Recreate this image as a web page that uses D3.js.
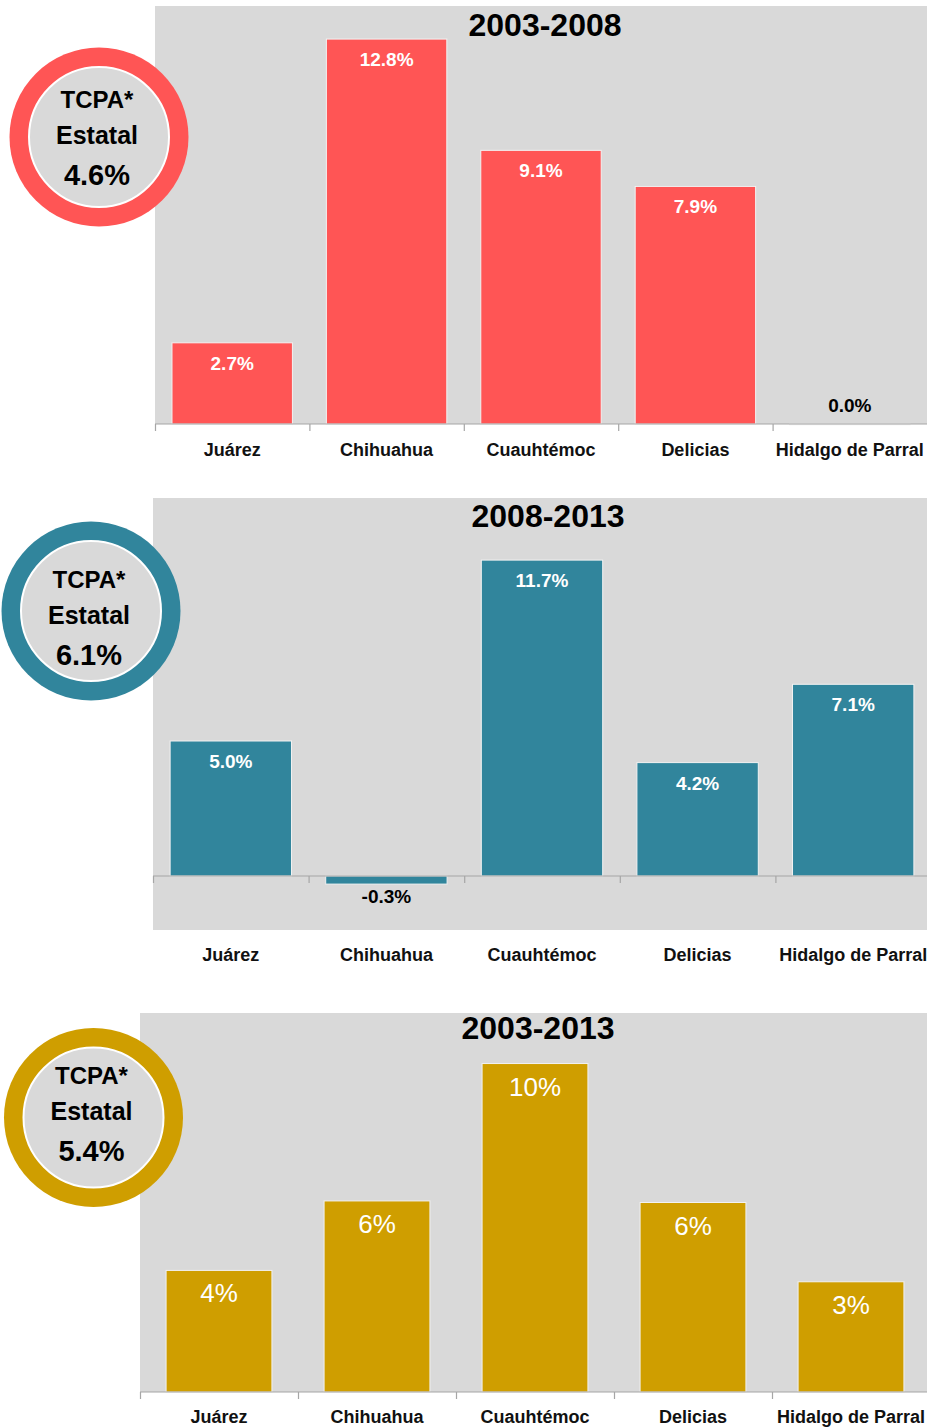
<!DOCTYPE html>
<html><head><meta charset="utf-8">
<script src="https://cdn.jsdelivr.net/npm/d3@7"></script>
<style>body{margin:0;background:#fff}svg{display:block}text{font-family:"Liberation Sans",Arial,sans-serif}</style>
</head><body>
<svg id="c" width="927" height="1428"></svg>
<script>
const categories = ["Juárez","Chihuahua","Cuauhtémoc","Delicias","Hidalgo de Parral"];
const periods = ["2003-2008","2008-2013","2003-2013"];
const values0308 = [2.7,12.8,9.1,7.9,0.0];
const values0813 = [5.0,-0.3,11.7,4.2,7.1];
const values0313 = [3.85,6.05,10.4,6.0,3.49];
const stateRates = [4.6,6.1,5.4];
const colors = ["#FF5555","#31859C","#CF9E00"];

const loc = d3.formatLocale({decimal:".",thousands:",",grouping:[3],currency:["$",""],minus:"-"});
const svg = d3.select("#c");
const panels = [
  {vals:values0308, fmt:loc.format(".1f"), x0:155, x1:927, yDom:[0,13.9], yRange:[424,6], frac:0.78, title:[545,36], circ:[99,137], tdy:0, bold:true, lab:456, lblSize:19, off:27},
  {vals:values0813, fmt:loc.format(".1f"), x0:153, x1:931, yDom:[-2,14], yRange:[930,498], frac:0.78, title:[548,527], circ:[91,611], tdy:6, bold:true, lab:961, lblSize:19, off:27},
  {vals:values0313, fmt:loc.format(".0f"), x0:140, x1:930, yDom:[0,12], yRange:[1392,1013], frac:0.67, title:[538,1039], circ:[93.5,1117.5], tdy:-5, bold:false, lab:1423, lblSize:26, off:32}
];

panels.forEach((p,i)=>{
  const g = svg.append("g");
  const x = d3.scaleBand().domain(categories).range([p.x0,p.x1]).padding(0);
  const y = d3.scaleLinear().domain(p.yDom).range(p.yRange);
  const base = y(0);
  const col = colors[i];
  g.append("rect").attr("x",p.x0).attr("y",y(p.yDom[1])).attr("width",927-p.x0)
    .attr("height",y(p.yDom[0])-y(p.yDom[1])).attr("fill","#d9d9d9");
  g.append("text").attr("x",p.title[0]).attr("y",p.title[1]).attr("text-anchor","middle")
    .attr("font-size",32).attr("font-weight","bold").attr("fill","#000").text(periods[i]);
  const bw = x.bandwidth()*p.frac;
  g.selectAll(".bar").data(p.vals).join("rect")
    .attr("x",(d,j)=>x(categories[j])+(x.bandwidth()-bw)/2)
    .attr("y",d=>Math.min(y(d),base))
    .attr("width",bw)
    .attr("height",d=>Math.max(Math.abs(y(d)-base),0.8))
    .attr("fill",col).attr("stroke","#f2f2f2").attr("stroke-width",1);
  g.selectAll(".vl").data(p.vals).join("text")
    .attr("x",(d,j)=>x(categories[j])+x.bandwidth()/2)
    .attr("y",d=>{
      if(d<0) return y(d)+19;
      if(Math.abs(y(d)-base)<2) return base-12;
      return y(d)+p.off;
    })
    .attr("text-anchor","middle")
    .attr("font-size",p.lblSize)
    .attr("font-weight",p.bold?"bold":"normal")
    .attr("fill",d=>(d<=0)?"#000":"#fff")
    .text(d=>p.fmt(d)+"%");
  g.append("line").attr("x1",p.x0).attr("x2",927).attr("y1",base).attr("y2",base)
    .attr("stroke","#a6a6a6").attr("stroke-width",1.2);
  g.selectAll(".tk").data(categories).join("line")
    .attr("x1",d=>x(d)+0.5).attr("x2",d=>x(d)+0.5)
    .attr("y1",base).attr("y2",base+7)
    .attr("stroke","#a6a6a6").attr("stroke-width",1.2);
  g.selectAll(".cl").data(categories).join("text")
    .attr("x",d=>x(d)+x.bandwidth()/2).attr("y",p.lab)
    .attr("text-anchor","middle").attr("font-size",18).attr("font-weight","bold")
    .attr("fill","#111").text(d=>d);
  const [cx,cy] = p.circ;
  const ty = cy + p.tdy;
  g.append("circle").attr("cx",cx).attr("cy",cy).attr("r",89.5).attr("fill",col);
  g.append("circle").attr("cx",cx).attr("cy",cy).attr("r",70).attr("fill","#d9d9d9")
    .attr("stroke","#fff").attr("stroke-width",2);
  g.append("text").attr("x",cx-2).attr("y",ty-29).attr("text-anchor","middle")
    .attr("font-size",24).attr("font-weight","bold").attr("fill","#000").text("TCPA*");
  g.append("text").attr("x",cx-2).attr("y",ty+7).attr("text-anchor","middle")
    .attr("font-size",25).attr("font-weight","bold").attr("fill","#000").text("Estatal");
  g.append("text").attr("x",cx-2).attr("y",ty+48).attr("text-anchor","middle")
    .attr("font-size",29).attr("font-weight","bold").attr("fill","#000").text(d3.format(".1f")(stateRates[i])+"%");
});
</script>
</body></html>
